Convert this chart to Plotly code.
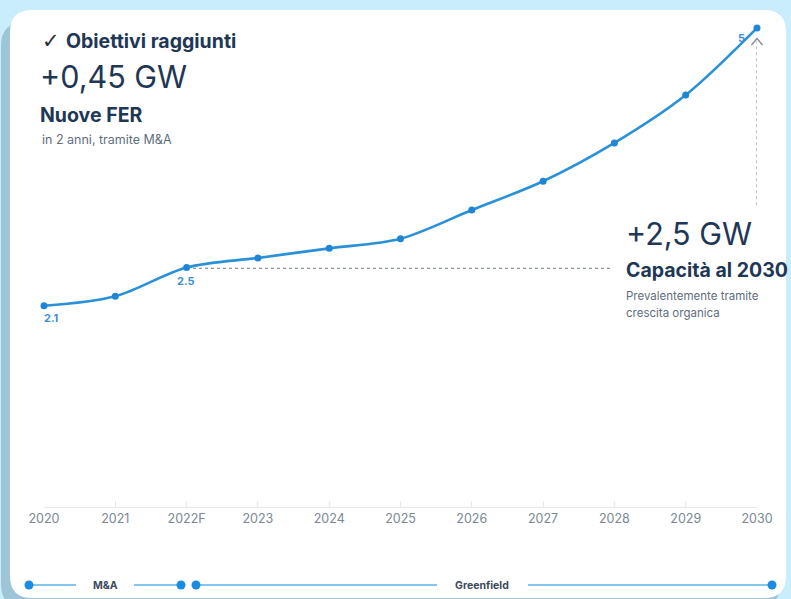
import plotly.graph_objects as go

# ---- data ----
years = ["2020", "2021", "2022F", "2023", "2024", "2025", "2026", "2027", "2028", "2029", "2030"]
capacity = [2.1, 2.2, 2.5, 2.6, 2.7, 2.8, 3.1, 3.4, 3.8, 4.3, 5.0]
point_labels = ["2.1", "", "2.5", "", "", "", "", "", "", "", "5"]
phases = ["M&A", "Greenfield"]

# ---- geometry helpers (pixel -> paper) ----
W, H = 791, 599
L, R, T, B = 44, 34, 28, 92
pw = W - L - R
ph = H - T - B


def px(x):
    return (x - L) / pw


def py(y):
    return (H - B - y) / ph


def rounded_rect(x0, y0, x1, y1, r):
    rx = r / pw
    ry = r / ph
    X0, X1 = px(x0), px(x1)
    Y0, Y1 = py(y0), py(y1)  # Y0 top (larger), Y1 bottom
    return (f"M {X0+rx},{Y0} L {X1-rx},{Y0} Q {X1},{Y0} {X1},{Y0-ry} "
            f"L {X1},{Y1+ry} Q {X1},{Y1} {X1-rx},{Y1} "
            f"L {X0+rx},{Y1} Q {X0},{Y1} {X0},{Y1+ry} "
            f"L {X0},{Y0-ry} Q {X0},{Y0} {X0+rx},{Y0} Z")


FONT = "Inter, Roboto, sans-serif"
NAVY = "#1e3756"
GREY = "#5f6e7d"
BLUE = "#2a90d8"
BG = "#c9edfb"

fig = go.Figure()
fig.add_trace(go.Scatter(
    x=list(range(len(years))), y=capacity,
    mode="lines+markers",
    line=dict(color=BLUE, width=2.6, shape="spline", smoothing=0.9),
    marker=dict(color="#1f86d4", size=7),
    cliponaxis=False, hoverinfo="skip", showlegend=False,
))

shapes = []
# card shadow + card
shapes.append(dict(type="path", xref="paper", yref="paper", layer="below",
                   path=rounded_rect(1, 22, 780, 608, 24),
                   fillcolor="#9ec4d8", line=dict(width=0)))
shapes.append(dict(type="path", xref="paper", yref="paper", layer="below",
                   path=rounded_rect(10, 10, 786, 598, 22),
                   fillcolor="white", line=dict(width=0)))

# horizontal dashed reference from 2022F
shapes.append(dict(type="line", xref="x", yref="y",
                   x0=2.09, x1=7.94, y0=capacity[2] - 0.01, y1=capacity[2] - 0.01,
                   line=dict(color="#8c969f", width=1.2, dash="3px,3px")))
# vertical dashed arrow at 2030
last = len(years) - 1
shapes.append(dict(type="line", xref="x", yref="y",
                   x0=last, x1=last, y0=3.15, y1=4.86,
                   line=dict(color="#8c969f", width=1.2, dash="3px,3px")))
shapes.append(dict(type="path", xref="paper", yref="paper",
                   path=f"M {px(751.5)},{py(45)} L {px(757)},{py(38.5)} L {px(762.5)},{py(45)}",
                   line=dict(color="#7d8891", width=1.3)))

# bottom timeline
TL_Y = 585
tl_color = "#5ab3ea"
for a, b in [(29, 76), (134, 181), (196, 437), (528, 772)]:
    shapes.append(dict(type="line", xref="paper", yref="paper",
                       x0=px(a), x1=px(b), y0=py(TL_Y), y1=py(TL_Y),
                       line=dict(color=tl_color, width=1.6)))
for cx in [29, 181, 196, 772]:
    shapes.append(dict(type="circle", xref="paper", yref="paper",
                       xsizemode="pixel", ysizemode="pixel",
                       xanchor=px(cx), yanchor=py(TL_Y),
                       x0=-4.5, x1=4.5, y0=-4.5, y1=4.5,
                       fillcolor="#1b8ce3", line=dict(width=0)))

annotations = []


def txt(text, x, y, size, color, bold=False, xanchor="left", family=FONT):
    annotations.append(dict(
        text=f"<b>{text}</b>" if bold else text,
        x=px(x), y=py(y), xref="paper", yref="paper",
        xanchor=xanchor, yanchor="middle", showarrow=False,
        font=dict(family=family, size=size, color=color)))


txt("✓", 40, 41, 21, "#262e38", bold=True, family="DejaVu Sans")
txt("Obiettivi raggiunti", 64, 41, 19.5, NAVY, bold=True)
txt("+0,45 GW", 38, 77, 30.5, NAVY)
txt("Nuove FER", 38, 115, 19.5, NAVY, bold=True)
txt("in 2 anni, tramite M&A", 40, 139, 12.5, GREY)
txt("+2,5 GW", 624, 233, 30.5, NAVY)
txt("Capacità al 2030", 624, 270, 19.5, NAVY, bold=True)
txt("Prevalentemente tramite", 624, 296, 11.5, GREY)
txt("crescita organica", 624, 313, 11.5, GREY)
txt(phases[0], 105, TL_Y, 10.5, "#3c4a59", bold=True, xanchor="center")
txt(phases[1], 482, TL_Y, 10.5, "#3c4a59", bold=True, xanchor="center")

# point value labels
offsets = {0: (7, -12), 2: (-1, -13), len(years) - 1: (-16, -10)}
for i, lab in enumerate(point_labels):
    if lab:
        dx, dy = offsets.get(i, (0, -12))
        annotations.append(dict(
            text=f"<b>{lab}</b>", x=i, y=capacity[i], xref="x", yref="y",
            xshift=dx, yshift=dy, showarrow=False,
            font=dict(family=FONT, size=11, color="#3b8fd3")))

fig.update_layout(
    width=W, height=H,
    margin=dict(l=L, r=R, t=T, b=B),
    paper_bgcolor=BG,
    plot_bgcolor="rgba(0,0,0,0)",
    shapes=shapes,
    annotations=annotations,
    xaxis=dict(
        tickmode="array", tickvals=list(range(len(years))), ticktext=years,
        range=[0, len(years) - 1], showgrid=False, zeroline=False,
        showline=True, linecolor="#e6e9ec", linewidth=1,
        ticks="inside", ticklen=6, tickcolor="#e6e9ec",
        tickfont=dict(family=FONT, size=12.5, color="#7b8794"),
    ),
    yaxis=dict(range=[0, 5], visible=False, showgrid=False, zeroline=False),
)

fig.write_html(
    "out.html",
    config={"displayModeBar": False},
    post_script=("document.body.style.margin='0';"
                 "document.body.style.overflow='hidden';"
                 f"document.body.style.background='{BG}';"),
)
